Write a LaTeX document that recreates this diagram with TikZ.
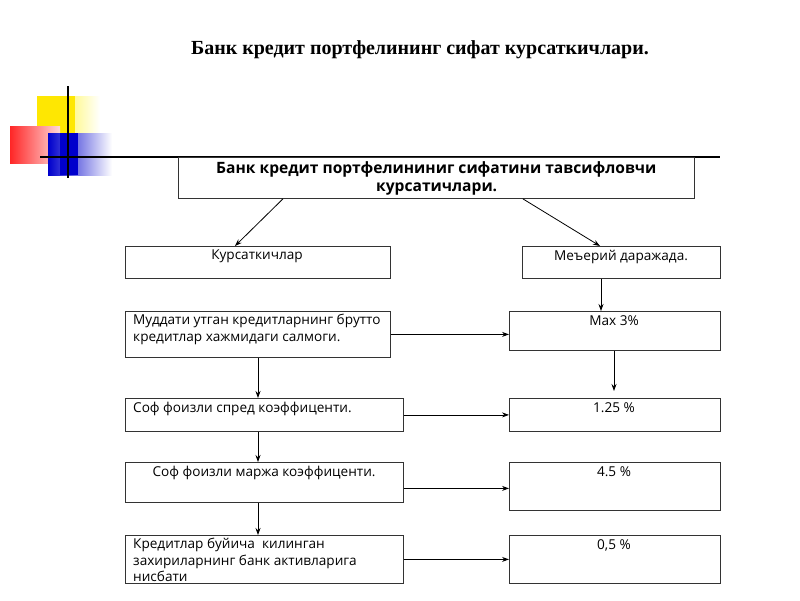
\documentclass[tikz,border=0pt]{standalone}
\usepackage{fontspec}
\setmainfont{Open Sans}
\newfontfamily\titlefont{Liberation Serif}
\usetikzlibrary{arrows.meta}
\begin{document}
\begin{tikzpicture}[x=1pt,y=-1pt,
  box/.style={draw=black!80,line width=0.8pt,anchor=north west,inner sep=0pt},
  txt/.style={font=\fontsize{13.6}{16.5}\selectfont,anchor=north west,align=left,inner sep=0pt},
  arr/.style={-{Stealth[length=7pt,width=5pt]},line width=0.8pt}]
\useasboundingbox (0,0) rectangle (800,600);
% decoration
\shade[left color=yellow!90!orange,right color=white] (37,96) rectangle (100,135);
\fill[yellow!90!orange] (37,96) rectangle (75,135);
\shade[left color=red!85,right color=red!15] (10,126) rectangle (60,163);
\shade[left color=blue!80!black,right color=white] (48,133) rectangle (112,175);
\fill[blue!80!black] (60,133) rectangle (78,175);
\draw[line width=1.5pt] (68,86) -- (68,178);
\draw[line width=1.5pt] (40,157) -- (720,157);
% title
\node (title) at (420,50) {\titlefont\bfseries\fontsize{20}{23}\selectfont Банк кредит портфелининг сифат курсаткичлари.};
% boxes
\node[box,minimum width=516,minimum height=41] (main) at (178,157) {};
\node[txt,font=\bfseries\fontsize{15.6}{18}\selectfont] (maint) at (216,161) {Банк кредит портфелининиг сифатини тавсифловчи\\\hspace*{160pt}курсатичлари.};
\node[box,minimum width=265,minimum height=32] (k) at (125,246) {};
\node[txt,anchor=north] (kt) at (257,250) {Курсаткичлар};
\node[box,minimum width=198,minimum height=32] (m) at (522,246) {};
\node[txt,anchor=north] (mt) at (621,250) {Меъерий даражада.};
\node[box,minimum width=265,minimum height=46] (b1) at (125,311) {};
\node[txt] (b1t) at (133,314) {Муддати утган кредитларнинг брутто\\кредитлар хажмидаги салмоги.};
\node[box,minimum width=211,minimum height=39] (r1) at (509,311) {};
\node[txt,anchor=north] (r1t) at (614,315) {Max 3\%};
\node[box,minimum width=278,minimum height=33] (b2) at (125,398) {};
\node[txt] (b2t) at (133,402) {Соф фоизли спред коэффиценти.};
\node[box,minimum width=211,minimum height=33] (r2) at (509,398) {};
\node[txt,anchor=north] (r2t) at (614,402) {1.25 \%};
\node[box,minimum width=278,minimum height=40] (b3) at (125,462) {};
\node[txt,anchor=north] (b3t) at (264,466) {Соф фоизли маржа коэффиценти.};
\node[box,minimum width=211,minimum height=48] (r3) at (509,462) {};
\node[txt,anchor=north] (r3t) at (614,466) {4.5 \%};
\node[box,minimum width=278,minimum height=48] (b4) at (125,535) {};
\node[txt] (b4t) at (133,538) {Кредитлар буйича\ \ килинган\\захириларнинг банк активларига\\нисбати};
\node[box,minimum width=211,minimum height=48] (r4) at (509,535) {};
\node[txt,anchor=north] (r4t) at (614,539) {0,5 \%};
% connectors
\coordinate (vx) at (258,0);
\coordinate (ux) at (614,0);
\draw[arr] ([xshift=105pt]main.south west) -- (k.north west -| 235,0);
\draw[arr] ([xshift=-172pt]main.south east) -- ([xshift=78pt]m.north west);
\draw[arr] ([xshift=79pt]m.south west) -- ([xshift=92pt]r1.north west);
\draw[arr] (r1.south -| ux) -- ([yshift=7pt]r2.north -| ux);
\draw[arr] (b1.east) -- (b1.east -| r1.west);
\draw[arr] (b2.east) -- (r2.west);
\draw[arr] ([yshift=-6pt]b3.east) -- ([yshift=-6pt]b3.east -| r3.west);
\draw[arr] (b4.east) -- (r4.west);
\draw[arr] (b1.south -| vx) -- (b2.north -| vx);
\draw[arr] (b2.south -| vx) -- (b3.north -| vx);
\draw[arr] (b3.south -| vx) -- (b4.north -| vx);
\end{tikzpicture}
\end{document}
